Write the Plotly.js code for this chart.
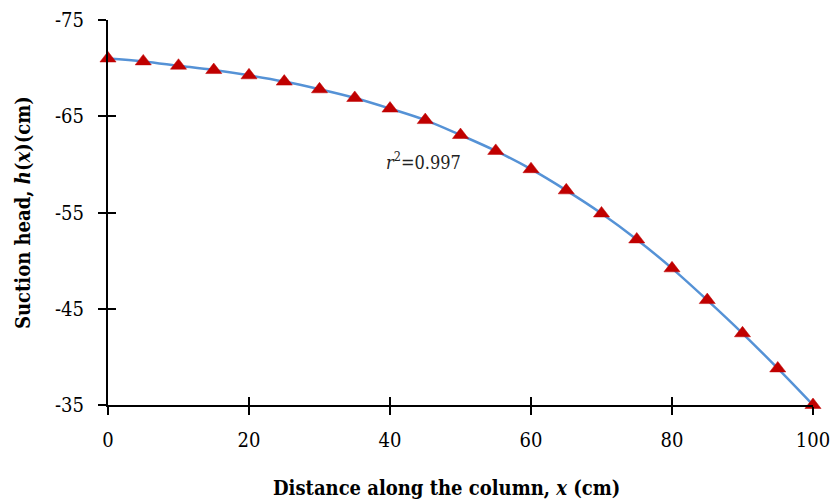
<!DOCTYPE html>
<html>
<head>
<meta charset="utf-8">
<script src="https://cdn.plot.ly/plotly-3.0.1.min.js"></script>
<style>html,body{margin:0;padding:0;background:#fff;}#chart{width:831px;height:499px;}</style>
</head>
<body>
<div id="chart"></div>
<script>
const distance = [0,5,10,15,20,25,30,35,40,45,50,55,60,65,70,75,80,85,90,95,100];
const suctionHead = [-71.0,-70.7,-70.25,-69.8,-69.25,-68.6,-67.8,-66.9,-65.8,-64.6,-63.05,-61.4,-59.5,-57.3,-54.9,-52.2,-49.2,-45.9,-42.45,-38.8,-35.0];
const yTicks = [-75,-65,-55,-45,-35];
const xTicks = [0,20,40,60,80,100];
const xTitle = '<b>Distance along the column, <i>x</i> (cm)</b>';
const yTitle = '<b>Suction head, <i>h</i>(<i>x</i>)(cm)</b>';
const fitLabel = '<i>r</i><sup>2</sup>=0.997';

const font = '"DejaVu Serif Condensed", "DejaVu Serif", serif';

const traces = [
  {x: distance, y: suctionHead, type: 'scatter', mode: 'lines',
   line: {color: '#5592D6', width: 2.5, shape: 'spline'}, hoverinfo: 'skip', showlegend: false},
  {x: distance, y: suctionHead, type: 'scatter', mode: 'markers',
   marker: {symbol: 'triangle-up', size: 14, color: '#C00000', line: {color: '#C00000', width: 0.5}},
   cliponaxis: false, showlegend: false},
  {x: [0], y: [-75], xaxis: 'x2', yaxis: 'y2', type: 'scatter', mode: 'markers',
   marker: {opacity: 0}, showlegend: false, hoverinfo: 'skip'}
];

const axBase = {showgrid: false, zeroline: false, linecolor: '#000', linewidth: 2, tickcolor: '#000', tickwidth: 2, ticklen: 8};

const layout = {
  width: 831, height: 499,
  margin: {l: 108, r: 18, t: 20, b: 94},
  paper_bgcolor: '#fff', plot_bgcolor: '#fff',
  font: {family: font, color: '#000', size: 20},
  xaxis: Object.assign({}, axBase, {
    range: [0, 100], tickvals: xTicks, ticktext: xTicks.map(String), ticks: 'outside', showline: true,
    tickfont: {family: font, size: 20}, ticklabelstandoff: 8
  }),
  yaxis: Object.assign({}, axBase, {
    range: [-35, -75], tickvals: yTicks, ticktext: yTicks.map(String), ticks: 'outside', showline: true,
    tickfont: {family: font, size: 20}, ticklabelstandoff: 10
  }),
  xaxis2: Object.assign({}, axBase, {
    overlaying: 'x', anchor: 'y2', side: 'bottom', range: [0, 100], tickvals: xTicks,
    ticks: 'inside', showticklabels: false, showline: false
  }),
  yaxis2: Object.assign({}, axBase, {
    overlaying: 'y', anchor: 'x2', side: 'left', range: [-35, -75], tickvals: yTicks,
    ticks: 'inside', showticklabels: false, showline: false
  }),
  annotations: [
    {x: 0.5, y: 0, xref: 'paper', yref: 'paper', text: xTitle, showarrow: false,
     xanchor: 'center', yanchor: 'middle', font: {family: font, size: 20, color: '#000'}},
    {x: 0, y: 0.5, xref: 'paper', yref: 'paper', text: yTitle, showarrow: false, textangle: -90,
     xanchor: 'center', yanchor: 'middle', font: {family: font, size: 20, color: '#000'}},
    {x: 50.3, y: -60.3, xref: 'x', yref: 'y', text: fitLabel, showarrow: false,
     xanchor: 'right', yanchor: 'middle', font: {family: font, size: 18, color: '#222'}}
  ]
};
// place titles at measured pixel centres, expressed as paper fractions
const plotW = 831 - 108 - 18, plotH = 499 - 20 - 94;
layout.annotations[0].x = (446 - 108) / plotW;
layout.annotations[0].y = (405 - 488) / plotH;
layout.annotations[1].x = (23 - 108) / plotW;
layout.annotations[1].y = (405 - 213) / plotH;

Plotly.newPlot('chart', traces, layout, {displayModeBar: false, staticPlot: true});
</script>
</body>
</html>
